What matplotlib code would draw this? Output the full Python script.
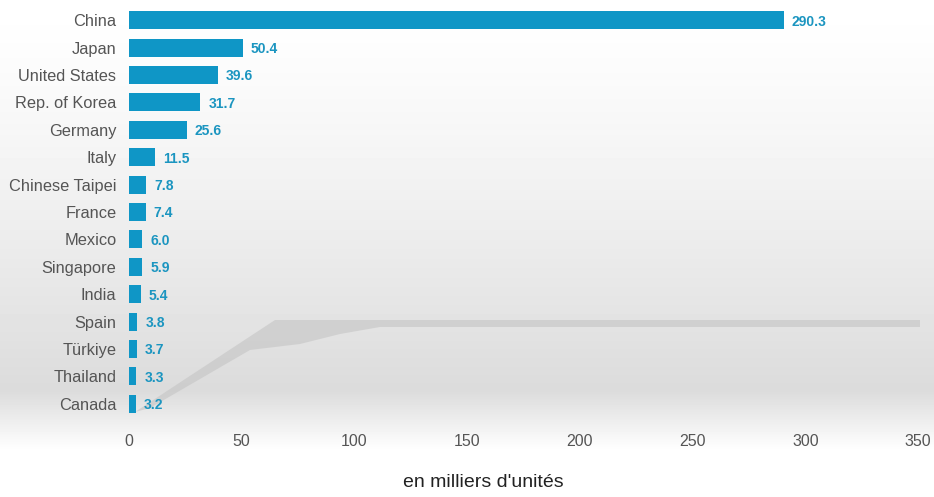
import numpy as np
import matplotlib
matplotlib.use("Agg")
import matplotlib.pyplot as plt
from matplotlib.patches import Polygon

plt.rcParams["font.family"] = ["Liberation Sans", "DejaVu Sans"]

# Data
countries = ["China", "Japan", "United States", "Rep. of Korea", "Germany",
             "Italy", "Chinese Taipei", "France", "Mexico", "Singapore",
             "India", "Spain", "Türkiye", "Thailand", "Canada"]
values = [290.3, 50.4, 39.6, 31.7, 25.6, 11.5, 7.8, 7.4, 6.0, 5.9,
          5.4, 3.8, 3.7, 3.3, 3.2]
xticks = [0, 50, 100, 150, 200, 250, 300, 350]

bar_color = "#0f96c6"
label_color = "#1b95c0"
text_color = "#555555"

fig = plt.figure(figsize=(9.34, 4.97), dpi=100)

# background: white at top, light grey towards the axis, white again below
bg = fig.add_axes([0, 0, 1, 1], zorder=-10)
h = 497
ys = np.arange(h)
shade = np.ones(h)
for i, y in enumerate(ys):
    if y < 390:
        shade[i] = 1.0 - 0.14 * (y / 390) ** 1.3
    else:
        shade[i] = 0.86 + 0.14 * min(1, (y - 390) / 60)
img = np.repeat(shade[:, None], 10, axis=1)
bg.imshow(img, cmap="gray", vmin=0, vmax=1, aspect="auto",
          extent=[0, 1, 0, 1], origin="upper")
# soft grey reflection band
band = [(135 / 934, 1 - 412 / h), (275 / 934, 1 - 320 / h), (920 / 934, 1 - 320 / h),
        (920 / 934, 1 - 327 / h), (380 / 934, 1 - 327 / h), (340 / 934, 1 - 334 / h),
        (300 / 934, 1 - 344 / h), (250 / 934, 1 - 350 / h), (150 / 934, 1 - 408 / h)]
bg.add_patch(Polygon(band, closed=True, facecolor="#c4c4c4", edgecolor="none", alpha=0.6))
bg.set_xlim(0, 1)
bg.set_ylim(0, 1)
bg.axis("off")

ax = fig.add_axes([0.138, 0.160, 0.845, 0.827])
ax.patch.set_alpha(0)

y = np.arange(len(countries))
ax.barh(y, values, height=0.66, color=bar_color)

for yi, v in zip(y, values):
    ax.text(v + 3.5, yi, f"{v:.1f}", va="center_baseline", ha="left",
            color=label_color, fontsize=10, fontweight="bold")

ax.set_xlim(0, 350)
ax.set_ylim(len(countries) - 0.5, -0.5)
ax.set_yticks(y)
ax.set_yticklabels(countries, fontsize=11.8, color=text_color)
ax.set_xticks(xticks)
ax.set_xticklabels([str(t) for t in xticks], fontsize=11.5, color=text_color)
ax.tick_params(axis="both", length=0)
ax.tick_params(axis="x", pad=12)
ax.tick_params(axis="y", pad=9)
for s in ax.spines.values():
    s.set_visible(False)

fig.text(0.518, 0.012, "en milliers d'unités", ha="center", va="bottom",
         fontsize=14, color="#222222")

fig.savefig("out.png", dpi=100)
